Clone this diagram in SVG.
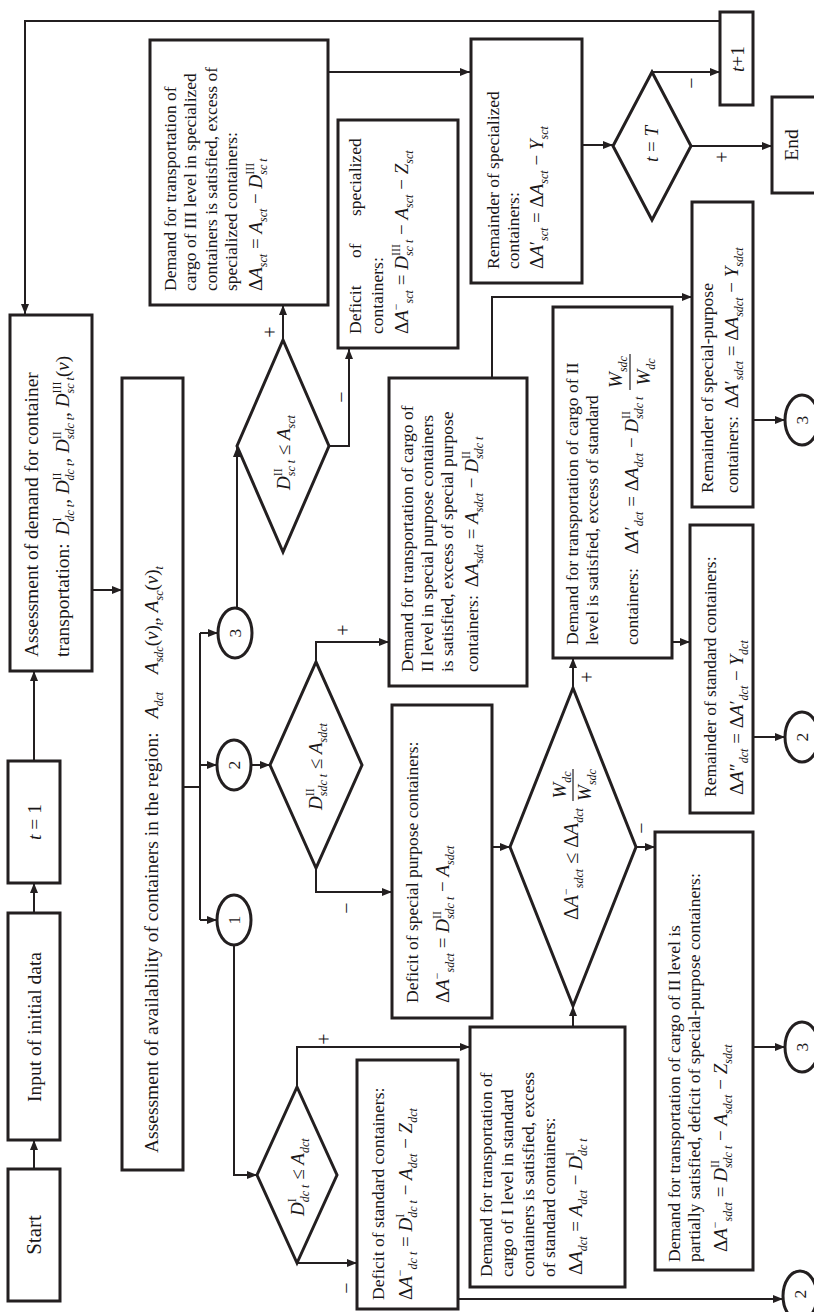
<svg xmlns="http://www.w3.org/2000/svg" width="814" height="1312" viewBox="0 0 814 1312">
<style>
text{font-family:"Liberation Serif","Times New Roman",serif;font-size:17.5px;fill:#1a1718}
.big{font-size:19.5px}
.i{font-style:italic}
.m{font-size:19px}
.m20{font-size:20px}
.sb{font-size:12px;font-style:italic}
.sp{font-size:12px;font-style:normal}
.c{text-anchor:middle}
.lbl{font-size:20px;text-anchor:middle}
.box{fill:#fff;stroke:#231f20;stroke-width:3}
.ln{fill:none;stroke:#231f20;stroke-width:2}
.ar{marker-end:url(#ah)}
</style>
<defs>
<marker id="ah" markerWidth="10" markerHeight="8" refX="10" refY="4" orient="auto" markerUnits="userSpaceOnUse"><path d="M0,0 L10,4 L0,8 z" fill="#231f20"/></marker>
</defs>
<rect width="814" height="1312" fill="#fff"/>
<g transform="matrix(0,-1,1,0,0,1312)">
<g id="connectors">
<path class="ln ar" d="M143,34 H172"/>
<path class="ln ar" d="M399,34 H429"/>
<path class="ln ar" d="M551,34 H641"/>
<path class="ln ar" d="M722,92 V122"/>
<path class="ln" d="M525,183 V200 M392,200 H679"/>
<path class="ln ar" d="M392,200 V217"/>
<path class="ln ar" d="M547,200 V217"/>
<path class="ln ar" d="M679,200 V218"/>
<path class="ln ar" d="M367,234 H137 V257"/>
<path class="ln ar" d="M547,251 V270"/>
<path class="ln ar" d="M704,237 H865"/>
<path class="ln ar" d="M49,297 V357"/>
<path class="ln ar" d="M225,297 H265 V470"/>
<path class="ln ar" d="M444,316 H420 V392"/>
<path class="ln ar" d="M650,316 H670 V389"/>
<path class="ln ar" d="M13,458 V783"/>
<path class="ln ar" d="M285,573 H306"/>
<path class="ln ar" d="M465,492 V510"/>
<path class="ln ar" d="M624,573 H654"/>
<path class="ln ar" d="M465,636 V655"/>
<path class="ln ar" d="M670,672 V690"/>
<path class="ln ar" d="M575,753 V785"/>
<path class="ln ar" d="M265,753 V785"/>
<path class="ln ar" d="M892,753 V785"/>
<path class="ln ar" d="M934,492 H1015 V692"/>
<path class="ln ar" d="M972,283 H1007"/>
<path class="ln ar" d="M866,329 V349 H963"/>
<path class="ln ar" d="M1240,328 V470"/>
<path class="ln ar" d="M1167,582 V613"/>
<path class="ln ar" d="M1166,691 V772"/>
<path class="ln ar" d="M1240,652 V720"/>
<path class="ln ar" d="M1291,720 V25 H998"/>
<text class="lbl" x="273" y="331">+</text>
<text class="lbl" x="24" y="353">−</text>
<text class="lbl" x="404" y="353">−</text>
<text class="lbl" x="682" y="350">+</text>
<text class="lbl" x="635" y="594">+</text>
<text class="lbl" x="484" y="648">−</text>
<text class="lbl" x="980" y="277">+</text>
<text class="lbl" x="915" y="348">−</text>
<text class="lbl" x="1155" y="729">+</text>
<text class="lbl" x="1229" y="698">−</text>
</g>
<g id="n-start"><rect class="box" x="11" y="8" width="132" height="52"/><text class="big c" x="77" y="41" style="font-size:21px">Start</text></g>
<g id="n-input"><rect class="box" x="172" y="8" width="227" height="52"/><text class="big c" x="285" y="41">Input of initial data</text></g>
<g id="n-t1"><rect class="box" x="429" y="8" width="122" height="52"/><text class="big c" x="490" y="41"><tspan class="i">t</tspan> = 1</text></g>
<g id="n-demand"><rect class="box" x="641" y="10" width="356" height="82"/>
<text class="big" x="655" y="38">Assessment of demand for container</text>
<text class="big" x="655" y="69">transportation:<tspan class="i m" dx="8">D</tspan><tspan class="sp" dy="-8">I</tspan><tspan class="sb" dx="-4" dy="13">dc t</tspan><tspan dy="-5">, </tspan><tspan class="i m">D</tspan><tspan class="sp" dy="-8">II</tspan><tspan class="sb" dx="-8" dy="13">dc t</tspan><tspan dy="-5">, </tspan><tspan class="i m">D</tspan><tspan class="sp" dy="-8">II</tspan><tspan class="sb" dx="-8" dy="13">sdc t</tspan><tspan dy="-5">, </tspan><tspan class="i m">D</tspan><tspan class="sp" dy="-8">III</tspan><tspan class="sb" dx="-12" dy="13">sc t</tspan><tspan class="m" dy="-5">(</tspan><tspan class="i m">v</tspan><tspan class="m">)</tspan></text></g>
<g id="n-avail"><rect class="box" x="142" y="122" width="792" height="61"/>
<text class="big" x="159" y="158">Assessment of availability of containers in the region:<tspan class="i m" dx="14">A</tspan><tspan class="sb" dy="5">dct</tspan><tspan class="i m" dx="18" dy="-5">A</tspan><tspan class="sb" dy="5">sdc</tspan><tspan class="m" dy="-5">(</tspan><tspan class="i m">v</tspan><tspan class="m">)</tspan><tspan class="sb" dy="5">t</tspan><tspan dy="-5">, </tspan><tspan class="i m">A</tspan><tspan class="sb" dy="5">sc</tspan><tspan class="m" dy="-5">(</tspan><tspan class="i m">v</tspan><tspan class="m">)</tspan><tspan class="sb" dy="5">t</tspan></text></g>
<g id="n-c1"><ellipse class="box" cx="392" cy="234" rx="25" ry="17"/><text class="c" x="392" y="240">1</text></g>
<g id="n-c2"><ellipse class="box" cx="547" cy="234" rx="25" ry="17"/><text class="c" x="547" y="240">2</text></g>
<g id="n-c3"><ellipse class="box" cx="679" cy="235" rx="25" ry="17"/><text class="c" x="679" y="241">3</text></g>
<g id="n-d1"><polygon class="box" points="49,297 137,257 225,297 137,337"/>
<text x="96" y="304"><tspan class="i m">D</tspan><tspan class="sp" dy="-8">I</tspan><tspan class="sb" dx="-4" dy="13">dc t</tspan><tspan class="m" dy="-5"> ≤ </tspan><tspan class="i m">A</tspan><tspan class="sb" dy="5">dct</tspan></text></g>
<g id="n-d2"><polygon class="box" points="444,316 547,270 650,316 547,362"/>
<text x="502" y="322"><tspan class="i m">D</tspan><tspan class="sp" dy="-8">II</tspan><tspan class="sb" dx="-8" dy="13">sdc t</tspan><tspan class="m" dy="-5"> ≤ </tspan><tspan class="i m">A</tspan><tspan class="sb" dy="5">sdct</tspan></text></g>
<g id="n-d4"><polygon class="box" points="760,283 866,237 972,283 866,329"/>
<text x="822" y="290"><tspan class="i m">D</tspan><tspan class="sp" dy="-8">II</tspan><tspan class="sb" dx="-8" dy="13">sc t</tspan><tspan class="m" dy="-5"> ≤ </tspan><tspan class="i m">A</tspan><tspan class="sb" dy="5">sct</tspan></text></g>
<g id="n-deficit-std"><rect class="box" x="3" y="357" width="249" height="101"/>
<text x="12" y="384">Deficit of standard containers:</text>
<text x="12" y="412"><tspan class="m">Δ</tspan><tspan class="m i">A</tspan><tspan class="sp" dy="-8">−</tspan><tspan class="sb" dy="13">dc t</tspan><tspan class="m" dy="-5"> = </tspan><tspan class="i m">D</tspan><tspan class="sp" dy="-8">I</tspan><tspan class="sb" dx="-4" dy="13">dc t</tspan><tspan class="m" dy="-5"> − </tspan><tspan class="i m">A</tspan><tspan class="sb" dy="5">dct</tspan><tspan class="m" dy="-5"> − </tspan><tspan class="i m">Z</tspan><tspan class="sb" dy="5">dct</tspan></text></g>
<g id="n-demand1"><rect class="box" x="25" y="470" width="260" height="155"/>
<text x="35" y="492">Demand for transportation of</text>
<text x="35" y="513">cargo of I level in standard</text>
<text x="35" y="534">containers is satisfied, excess</text>
<text x="35" y="555">of standard containers:</text>
<text x="37" y="582"><tspan class="m">Δ</tspan><tspan class="m i">A</tspan><tspan class="sb" dy="5">dct</tspan><tspan class="m" dy="-5"> = </tspan><tspan class="i m">A</tspan><tspan class="sb" dy="5">dct</tspan><tspan class="m" dy="-5"> − </tspan><tspan class="i m">D</tspan><tspan class="sp" dy="-8">I</tspan><tspan class="sb" dx="-4" dy="13">dc t</tspan></text></g>
<g id="n-deficit-sp"><rect class="box" x="294" y="392" width="313" height="100"/>
<text x="309" y="418">Deficit of special purpose containers:</text>
<text x="309" y="449"><tspan class="m">Δ</tspan><tspan class="m i">A</tspan><tspan class="sp" dy="-8">−</tspan><tspan class="sb" dy="13">sdct</tspan><tspan class="m" dy="-5"> = </tspan><tspan class="i m">D</tspan><tspan class="sp" dy="-8">II</tspan><tspan class="sb" dx="-8" dy="13">sdc t</tspan><tspan class="m" dy="-5"> − </tspan><tspan class="i m">A</tspan><tspan class="sb" dy="5">sdct</tspan></text></g>
<g id="n-demand2sp"><rect class="box" x="626" y="389" width="308" height="138"/>
<text x="640" y="413">Demand for transportation of cargo of</text>
<text x="640" y="433">II level in special purpose containers</text>
<text x="640" y="453">is satisfied, excess of special purpose</text>
<text x="640" y="478">containers:<tspan class="m" dx="8">Δ</tspan><tspan class="m i">A</tspan><tspan class="sb" dy="5">sdct</tspan><tspan class="m" dy="-5"> = </tspan><tspan class="i m">A</tspan><tspan class="sb" dy="5">sdct</tspan><tspan class="m" dy="-5"> − </tspan><tspan class="i m">D</tspan><tspan class="sp" dy="-8">II</tspan><tspan class="sb" dx="-8" dy="13">sdc t</tspan></text></g>
<g id="n-d3"><polygon class="box" points="306,573 465,510 624,573 465,636"/>
<text x="392" y="578"><tspan class="m20">Δ</tspan><tspan class="m20 i">A</tspan><tspan class="sp" dy="-8">−</tspan><tspan class="sb" dy="13">sdct</tspan><tspan class="m20" dy="-5"> ≤ </tspan><tspan class="m20">Δ</tspan><tspan class="m20 i">A</tspan><tspan class="sb" dy="5">dct</tspan></text>
<text x="527" y="566" class="c"><tspan class="m i">W</tspan><tspan class="sb" dy="5">dc</tspan></text>
<path class="ln" d="M511,573 H543" style="stroke-width:1.2"/>
<text x="527" y="591" class="c"><tspan class="m i">W</tspan><tspan class="sb" dy="5">sdc</tspan></text></g>
<g id="n-demand2std"><rect class="box" x="654" y="553" width="351" height="119"/>
<text x="667" y="578">Demand for transportation of cargo of II</text>
<text x="667" y="598">level is satisfied, excess of standard</text>
<text x="667" y="638">containers:<tspan class="m" dx="14">Δ</tspan><tspan class="m i">A</tspan><tspan class="m">′</tspan><tspan class="sb" dy="5">dct</tspan><tspan class="m" dy="-5"> = </tspan><tspan class="m">Δ</tspan><tspan class="m i">A</tspan><tspan class="sb" dy="5">dct</tspan><tspan class="m" dy="-5"> − </tspan><tspan class="i m">D</tspan><tspan class="sp" dy="-8">II</tspan><tspan class="sb" dx="-8" dy="13">sdc t</tspan></text>
<text x="940" y="622" class="c"><tspan class="m i">W</tspan><tspan class="sb" dy="5">sdc</tspan></text>
<path class="ln" d="M922,630 H958" style="stroke-width:1.2"/>
<text x="940" y="650" class="c"><tspan class="m i">W</tspan><tspan class="sb" dy="5">dc</tspan></text></g>
<g id="n-partial"><rect class="box" x="42" y="655" width="438" height="98"/>
<text x="50" y="680">Demand for transportation of cargo of II level is</text>
<text x="50" y="700">partially satisfied, deficit of special-purpose containers:</text>
<text x="60" y="727"><tspan class="m">Δ</tspan><tspan class="m i">A</tspan><tspan class="sp" dy="-8">−</tspan><tspan class="sb" dy="13">sdct</tspan><tspan class="m" dy="-5"> = </tspan><tspan class="i m">D</tspan><tspan class="sp" dy="-8">II</tspan><tspan class="sb" dx="-8" dy="13">sdc t</tspan><tspan class="m" dy="-5"> − </tspan><tspan class="i m">A</tspan><tspan class="sb" dy="5">sdct</tspan><tspan class="m" dy="-5"> − </tspan><tspan class="i m">Z</tspan><tspan class="sb" dy="5">sdct</tspan></text></g>
<g id="n-rem-std"><rect class="box" x="499" y="690" width="288" height="63"/>
<text x="515" y="716">Remainder of standard containers:</text>
<text x="517" y="743"><tspan class="m">Δ</tspan><tspan class="m i">A</tspan><tspan class="m">″</tspan><tspan class="sb" dy="5">dct</tspan><tspan class="m" dy="-5"> = </tspan><tspan class="m">Δ</tspan><tspan class="m i">A</tspan><tspan class="m">′</tspan><tspan class="sb" dy="5">dct</tspan><tspan class="m" dy="-5"> − </tspan><tspan class="i m">Y</tspan><tspan class="sb" dy="5">dct</tspan></text></g>
<g id="n-rem-sp"><rect class="box" x="805" y="692" width="305" height="61"/>
<text x="819" y="713">Remainder of special-purpose</text>
<text x="819" y="738">containers:<tspan class="m" dx="8">Δ</tspan><tspan class="m i">A</tspan><tspan class="m">′</tspan><tspan class="sb" dy="5">sdct</tspan><tspan class="m" dy="-5"> = </tspan><tspan class="m">Δ</tspan><tspan class="m i">A</tspan><tspan class="sb" dy="5">sdct</tspan><tspan class="m" dy="-5"> − </tspan><tspan class="i m">Y</tspan><tspan class="sb" dy="5">sdct</tspan></text></g>
<g id="n-c3b"><ellipse class="box" cx="265" cy="802" rx="25" ry="17"/><text class="c" x="265" y="808">3</text></g>
<g id="n-c2b"><ellipse class="box" cx="575" cy="802" rx="25" ry="17"/><text class="c" x="575" y="808">2</text></g>
<g id="n-c3c"><ellipse class="box" cx="892" cy="802" rx="25" ry="17"/><text class="c" x="892" y="808">3</text></g>
<g id="n-c2c"><ellipse class="box" cx="16" cy="800" rx="25" ry="17"/><text class="c" x="18" y="806">2</text></g>
<g id="n-deficit-sc"><rect class="box" x="964" y="338" width="228" height="120"/>
<text x="978" y="361" word-spacing="23">Deficit of specialized</text>
<text x="978" y="383">containers:</text>
<text x="978" y="408"><tspan class="m">Δ</tspan><tspan class="m i">A</tspan><tspan class="sp" dy="-8">−</tspan><tspan class="sb" dy="13">sct</tspan><tspan class="m" dy="-5"> = </tspan><tspan class="i m">D</tspan><tspan class="sp" dy="-8">III</tspan><tspan class="sb" dx="-12" dy="13">sc t</tspan><tspan class="m" dy="-5"> − </tspan><tspan class="i m">A</tspan><tspan class="sb" dy="5">sct</tspan><tspan class="m" dy="-5"> − </tspan><tspan class="i m">Z</tspan><tspan class="sb" dy="5">sct</tspan></text></g>
<g id="n-demand3"><rect class="box" x="1007" y="150" width="265" height="178"/>
<text x="1021" y="176">Demand for transportation of</text>
<text x="1021" y="196">cargo of III level in specialized</text>
<text x="1021" y="217">containers is satisfied, excess of</text>
<text x="1021" y="237">specialized containers:</text>
<text x="1021" y="262"><tspan class="m">Δ</tspan><tspan class="m i">A</tspan><tspan class="sb" dy="5">sct</tspan><tspan class="m" dy="-5"> = </tspan><tspan class="i m">A</tspan><tspan class="sb" dy="5">sct</tspan><tspan class="m" dy="-5"> − </tspan><tspan class="i m">D</tspan><tspan class="sp" dy="-8">III</tspan><tspan class="sb" dx="-12" dy="13">sc t</tspan></text></g>
<g id="n-rem-sc"><rect class="box" x="1029" y="471" width="244" height="111"/>
<text x="1043" y="499">Remainder of specialized</text>
<text x="1043" y="519">containers:</text>
<text x="1043" y="543"><tspan class="m">Δ</tspan><tspan class="m i">A</tspan><tspan class="m">′</tspan><tspan class="sb" dy="5">sct</tspan><tspan class="m" dy="-5"> = </tspan><tspan class="m">Δ</tspan><tspan class="m i">A</tspan><tspan class="sb" dy="5">sct</tspan><tspan class="m" dy="-5"> − </tspan><tspan class="i m">Y</tspan><tspan class="sb" dy="5">sct</tspan></text></g>
<g id="n-dT"><polygon class="box" points="1092,652 1166,613 1240,652 1166,691"/>
<text class="c m" x="1168" y="658"><tspan class="i">t</tspan> = <tspan class="i">T</tspan></text></g>
<g id="n-end"><rect class="box" x="1119" y="772" width="96" height="50"/><text class="big c" x="1167" y="798">End</text></g>
<g id="n-tplus"><rect class="box" x="1207" y="720" width="93" height="33"/><text class="big c" x="1253" y="744"><tspan class="i">t</tspan>+1</text></g>
</g>
</svg>
